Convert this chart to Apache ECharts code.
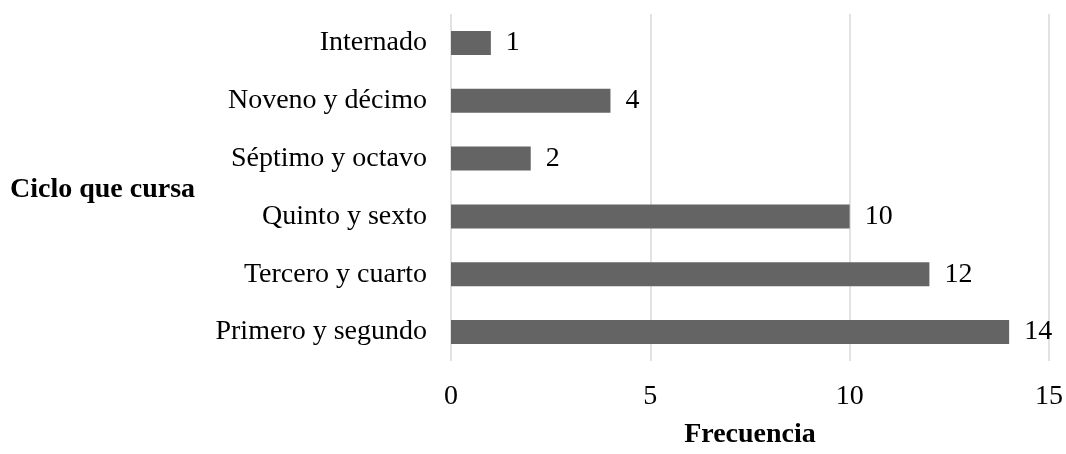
<!DOCTYPE html>
<html>
<head>
<meta charset="utf-8">
<script src="https://cdn.jsdelivr.net/npm/echarts@6/dist/echarts.min.js"></script>
<style>
  html, body { margin: 0; padding: 0; background: #fff; }
  #chart { width: 1066px; height: 454px; }
</style>
</head>
<body>
<div id="chart"></div>
<script>
// categorias de arriba hacia abajo
var ciclos = ["Internado", "Noveno y décimo", "Séptimo y octavo", "Quinto y sexto", "Tercero y cuarto", "Primero y segundo"];
var frecuencia = [1, 4, 2, 10, 12, 14];
var ejeX = [0, 5, 10, 15];

var fuente = "'Liberation Serif', 'Times New Roman', serif";

var chart = echarts.init(document.getElementById("chart"));
chart.setOption({
  animation: false,
  grid: { left: 451, right: 15, top: 14, bottom: 86, containLabel: false },
  graphic: [
    {
      type: "text",
      left: 10,
      top: 176,
      style: { text: "Ciclo que cursa", font: "bold 28px " + fuente, fill: "#000" }
    }
  ],
  xAxis: {
    type: "value",
    min: ejeX[0],
    max: ejeX[ejeX.length - 1],
    interval: 5,
    name: "Frecuencia",
    nameLocation: "middle",
    nameGap: 60,
    nameTextStyle: { fontFamily: fuente, fontSize: 28, fontWeight: "bold", color: "#000" },
    axisLine: { show: false },
    axisTick: { show: false },
    axisLabel: { fontFamily: fuente, fontSize: 28, color: "#000", margin: 22 },
    splitLine: { show: true, lineStyle: { color: "#d9d9d9", width: 1.5 } }
  },
  yAxis: {
    type: "category",
    data: ciclos,
    inverse: true,
    axisLine: { show: false },
    axisTick: { show: false },
    axisLabel: { fontFamily: fuente, fontSize: 28, color: "#000", margin: 24 }
  },
  series: [
    {
      type: "bar",
      data: frecuencia,
      barWidth: 24,
      itemStyle: { color: "#646464" },
      label: {
        show: true,
        position: "right",
        distance: 15,
        fontFamily: fuente,
        fontSize: 28,
        color: "#000"
      }
    }
  ]
});
</script>
</body>
</html>
